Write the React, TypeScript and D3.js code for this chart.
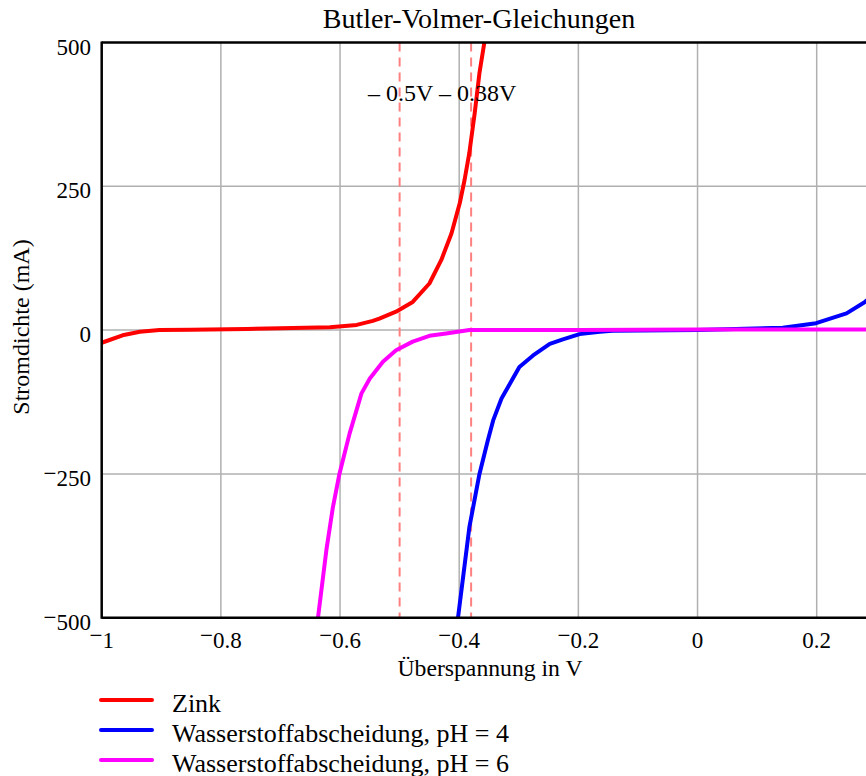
import React from "react";
import * as d3 from "d3";

const zinkV = [-1.0, -0.965, -0.936, -0.903, -0.85, -0.757, -0.7, -0.617, -0.572, -0.545, -0.534, -0.506, -0.478, -0.45, -0.43, -0.413, -0.399, -0.391, -0.383, -0.374, -0.366, -0.357, -0.352];
const zinkI = [-22, -9, -3, 0, 0.5, 2, 3, 5, 9, 16, 20, 32, 49, 81, 122, 168, 221, 261, 308, 377, 447, 505, 545];

const h4V = [-0.404, -0.402, -0.383, -0.366, -0.352, -0.343, -0.329, -0.318, -0.299, -0.276, -0.248, -0.226, -0.198, -0.164, -0.143, 0, 0.143, 0.199, 0.25, 0.281, 0.3];
const h4I = [-530, -500, -343, -250, -192, -157, -119, -99, -64, -44, -24, -16, -7, -3, -1, 0, 4, 12, 29, 49, 65];

const h6V = [-0.639, -0.637, -0.623, -0.612, -0.601, -0.584, -0.564, -0.55, -0.528, -0.506, -0.478, -0.45, -0.422, -0.383, -0.2, 0, 0.3];
const h6I = [-530, -500, -383, -308, -250, -180, -110, -84, -55, -35, -20, -10, -6, 0, 0, 1, 1];

const xTicks = [-1, -0.8, -0.6, -0.4, -0.2, 0, 0.2];
const yTicks = [-500, -250, 0, 250, 500];
const markerV = [-0.5, -0.38];
const markerLabel = "– 0.5V – 0.38V";
const legendNames = ["Zink", "Wasserstoffabscheidung, pH = 4", "Wasserstoffabscheidung, pH = 6"];
const colors = ["#ff0000", "#0000ff", "#ff00ff"];

const FONT = "'Liberation Serif', 'Times New Roman', serif";

function fmt(v: number) {
  const a = Math.abs(v);
  return String(Math.round(a * 10) / 10);
}

function TickText({ v, x, y, anchor, size }: { v: number; x: number; y: number; anchor: string; size: number }) {
  if (v < 0) {
    return (
      <text x={x} y={y} textAnchor={anchor as any} fontSize={size} fontFamily={FONT}>
        <tspan dy={-5}>−</tspan>
        <tspan dy={5}>{fmt(v)}</tspan>
      </text>
    );
  }
  return (
    <text x={x} y={y} textAnchor={anchor as any} fontSize={size} fontFamily={FONT}>
      {fmt(v)}
    </text>
  );
}

export default function App() {
  const W = 866, H = 776;
  const left = 101.7, top = 42.5, bottom = 617.7;
  const x = d3.scaleLinear().domain([-1, 0.2]).range([left, 816.7]);
  const y = d3.scaleLinear().domain([-500, 500]).range([bottom, top]);
  const right = x(0.3);

  const line = d3
    .line<[number, number]>()
    .x((d) => x(d[0]))
    .y((d) => y(d[1]));

  const series = [
    zinkV.map((v, i) => [v, zinkI[i]] as [number, number]),
    h4V.map((v, i) => [v, h4I[i]] as [number, number]),
    h6V.map((v, i) => [v, h6I[i]] as [number, number]),
  ];

  return (
    <svg width={W} height={H} style={{ position: "absolute", left: 0, top: 0, background: "#fff" }}>
      <defs>
        <clipPath id="plot">
          <rect x={left} y={top} width={right - left} height={bottom - top} />
        </clipPath>
      </defs>
      <rect width={W} height={H} fill="#fff" />
      {/* grid */}
      {xTicks.filter((t) => t > -1).map((t) => (
        <line key={"gx" + t} x1={x(t)} x2={x(t)} y1={top} y2={bottom} stroke="#b0b0b0" strokeWidth={1.5} />
      ))}
      {yTicks.filter((t) => t > -500 && t < 500).map((t) => (
        <line key={"gy" + t} x1={left} x2={right} y1={y(t)} y2={y(t)} stroke="#b0b0b0" strokeWidth={1.5} />
      ))}
      {/* marker lines */}
      {markerV.map((m) => (
        <line key={"m" + m} x1={x(m)} x2={x(m)} y1={top} y2={bottom} stroke="#ff8080" strokeWidth={2} strokeDasharray="9,6" />
      ))}
      {/* curves */}
      <g clipPath="url(#plot)">
        <path d={line(series[0]) || ""} fill="none" stroke={colors[0]} strokeWidth={4} strokeLinejoin="round" />
        <path d={line(series[1]) || ""} fill="none" stroke={colors[1]} strokeWidth={4} strokeLinejoin="round" />
        <path d={line(series[2]) || ""} fill="none" stroke={colors[2]} strokeWidth={4} strokeLinejoin="round" />
      </g>
      {/* frame */}
      <line x1={left} x2={left} y1={top - 1} y2={bottom + 1} stroke="#000" strokeWidth={2.5} />
      <line x1={left} x2={right} y1={top} y2={top} stroke="#000" strokeWidth={2.5} />
      <line x1={left} x2={right} y1={bottom} y2={bottom} stroke="#000" strokeWidth={2.5} />
      {/* tick labels */}
      {xTicks.map((t) => (
        <TickText key={"xt" + t} v={t} x={x(t)} y={648} anchor="middle" size={23} />
      ))}
      {yTicks.map((t) => (
        <TickText key={"yt" + t} v={t} x={91} y={y(t) + 12} anchor="end" size={23} />
      ))}
      {/* marker label */}
      <text x={368} y={101} fontSize={24} fontFamily={FONT}>{markerLabel}</text>
      {/* title */}
      <text x={479} y={28} textAnchor="middle" fontSize={28} fontFamily={FONT}>Butler-Volmer-Gleichungen</text>
      {/* axis labels */}
      <text x={490} y={676} textAnchor="middle" fontSize={23.7} fontFamily={FONT}>Überspannung in V</text>
      <text transform={`translate(29,327) rotate(-90)`} textAnchor="middle" fontSize={24} fontFamily={FONT}>Stromdichte (mA)</text>
      {/* legend */}
      {legendNames.map((n, i) => (
        <g key={n}>
          <line x1={101} x2={152} y1={700 + i * 30} y2={700 + i * 30} stroke={colors[i]} strokeWidth={4} strokeLinecap="round" />
          <text x={172} y={712 + i * 30} fontSize={26} fontFamily={FONT}>{n}</text>
        </g>
      ))}
    </svg>
  );
}
